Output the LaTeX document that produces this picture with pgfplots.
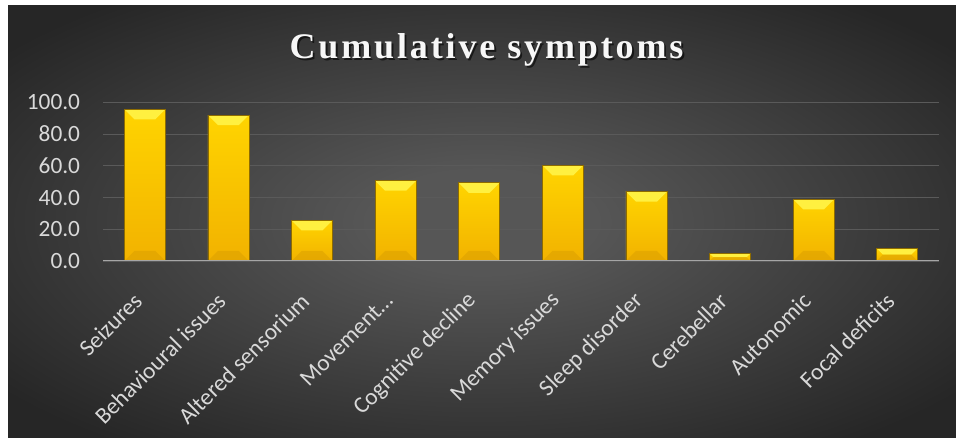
\documentclass[border=0pt]{standalone}
\usepackage{fontspec}
\setmainfont{Carlito}
\newfontfamily\titlefont[LetterSpace=8]{Liberation Serif}
\usepackage{pgfplots}
\pgfplotsset{compat=1.18}

\definecolor{pcenter}{HTML}{565656}
\definecolor{pedge}{HTML}{262626}
\definecolor{gridgray}{HTML}{5A5A5A}
\definecolor{axisgray}{HTML}{A6A6A6}
\definecolor{labelgray}{HTML}{D9D9D9}
\definecolor{bartop}{HTML}{FFD400}
\definecolor{barbottom}{HTML}{F2B200}
\definecolor{barlight}{HTML}{FFF040}
\definecolor{bardeep}{HTML}{D99E00}
\definecolor{baredge}{HTML}{8E6C00}

\pgfdeclareradialshading{panelshade}{\pgfpoint{0bp}{0bp}}{%
  color(0bp)=(pcenter); color(6bp)=(pcenter); color(32bp)=(pedge); color(50bp)=(pedge)}

% bevelled top and bottom bands of a bar, drawn inside the bar's own outline
\newdimen\bvxl \newdimen\bvxr \newdimen\bvyt \newdimen\bvyb \newdimen\bvn
\newcommand\barbevel{%
  \pgfextractx{\bvxr}{\pgfpointanchor{path picture bounding box}{north east}}%
  \pgfextracty{\bvyt}{\pgfpointanchor{path picture bounding box}{north east}}%
  \pgfextractx{\bvxl}{\pgfpointanchor{path picture bounding box}{south west}}%
  \pgfextracty{\bvyb}{\pgfpointanchor{path picture bounding box}{south west}}%
  \pgfmathsetlength{\bvn}{min(7.5pt,0.5*(\bvyt-\bvyb))}%
  \pgfsetfillcolor{barlight}%
  \pgfpathmoveto{\pgfqpoint{\bvxl}{\bvyt}}%
  \pgfpathlineto{\pgfqpoint{\bvxr}{\bvyt}}%
  \pgfpathlineto{\pgfpoint{\bvxr-\bvn}{\bvyt-\bvn}}%
  \pgfpathlineto{\pgfpoint{\bvxl+\bvn}{\bvyt-\bvn}}%
  \pgfpathclose
  \pgfusepath{fill}%
  \pgfsetfillcolor{bardeep}%
  \pgfsetfillopacity{0.5}%
  \pgfpathmoveto{\pgfqpoint{\bvxl}{\bvyb}}%
  \pgfpathlineto{\pgfqpoint{\bvxr}{\bvyb}}%
  \pgfpathlineto{\pgfpoint{\bvxr-\bvn}{\bvyb+\bvn}}%
  \pgfpathlineto{\pgfpoint{\bvxl+\bvn}{\bvyb+\bvn}}%
  \pgfpathclose
  \pgfusepath{fill}%
}

\pgfplotsset{goldbar/.style={ybar, bar shift=0pt, draw=baredge, line width=0.5pt,
  top color=bartop, bottom color=barbottom, path picture={\barbevel}}}

\begin{document}
\begin{tikzpicture}[x=1pt,y=1pt]
\useasboundingbox (0,0) rectangle (717,328.5);
\fill[white] (0,0) rectangle (717,328.5);
\shade[shading=panelshade] (6,0) rectangle (717,324);

% title with drop shadow
\node[anchor=base, text=black, opacity=0.6] at (366.3,282.8)
  {\titlefont\bfseries\fontsize{27}{30}\selectfont Cumulative symptoms};
\node[anchor=base, text=white!94!gray] at (364.9,284.25)
  {\titlefont\bfseries\fontsize{27}{30}\selectfont Cumulative symptoms};

\begin{axis}[
  at={(77.25pt,132.75pt)}, anchor=south west,
  scale only axis, width=627pt, height=119pt,
  xmin=-0.5, xmax=9.5, ymin=0, ymax=100,
  axis line style={draw=none},
  ytick={0,20,...,100},
  xtick={0,...,9},
  xticklabels={Seizures,Behavioural issues,Altered sensorium,Movement\dots,Cognitive decline,Memory issues,Sleep disorder,Cerebellar,Autonomic,Focal deficits},
  major tick length=0pt,
  ymajorgrids, grid style={gridgray, line width=0.8pt},
  /pgf/number format/assume math mode=true,
  yticklabel={\pgfmathprintnumber[fixed,fixed zerofill,precision=1]{\tick}},
  y tick label style={font=\fontsize{17.5}{20}\selectfont, text=labelgray,
    anchor=east, inner sep=0pt, xshift=-17pt},
  x tick label style={font=\fontsize{17.5}{20}\selectfont, text=labelgray,
    xshift=-5pt, yshift=-27pt, rotate=45, anchor=east, inner sep=0pt},
  bar width=0.49,
]
% one bar per category so that each bar carries its own shading and bevel
\addplot[goldbar] coordinates {(0,95.6)};
\addplot[goldbar] coordinates {(1,92.0)};
\addplot[goldbar] coordinates {(2,25.6)};
\addplot[goldbar] coordinates {(3,50.6)};
\addplot[goldbar] coordinates {(4,49.3)};
\addplot[goldbar] coordinates {(5,60.3)};
\addplot[goldbar] coordinates {(6,43.7)};
\addplot[goldbar] coordinates {(7,4.8)};
\addplot[goldbar] coordinates {(8,38.9)};
\addplot[goldbar] coordinates {(9,8.0)};
\draw[axisgray, line width=1.8pt] (axis cs:-0.5,0) -- (axis cs:9.5,0);
\end{axis}
\end{tikzpicture}
\end{document}
